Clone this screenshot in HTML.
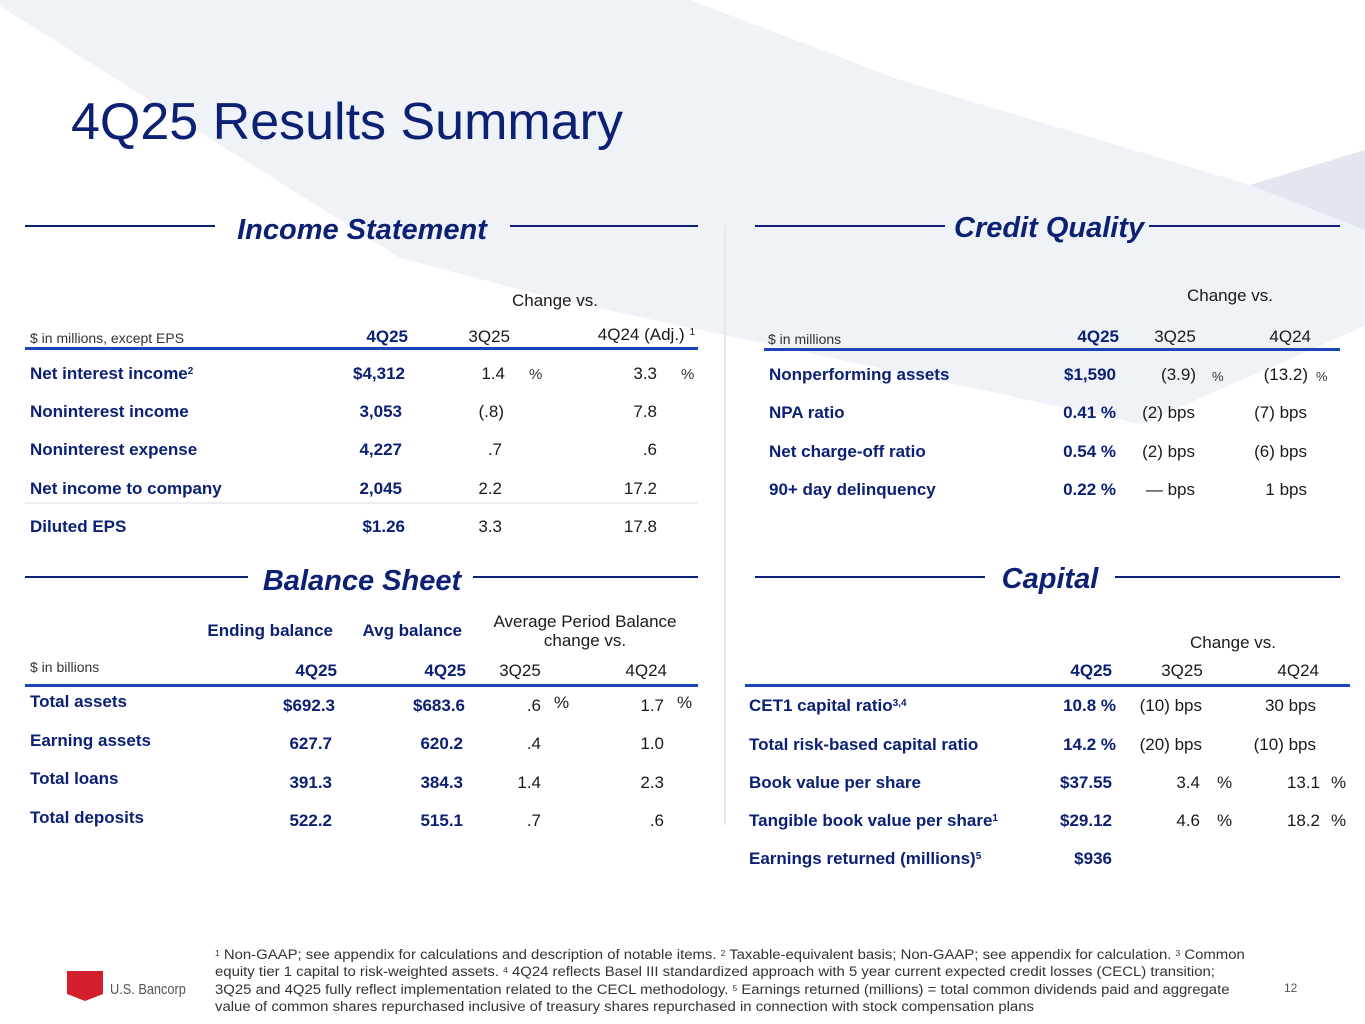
<!DOCTYPE html>
<html><head><meta charset="utf-8">
<style>
*{margin:0;padding:0;box-sizing:border-box}
body{width:1365px;height:1024px;position:relative;overflow:hidden;background:#fff;font-family:"Liberation Sans",sans-serif}
.a{position:absolute;white-space:nowrap;line-height:22px}
.R{transform:translateX(-100%)}
.C{transform:translateX(-50%)}
.lb{font-size:17px;font-weight:bold;color:#0c2074}
.v{font-size:17px;font-weight:bold;color:#0c2074}
.c{font-size:17px;color:#1a1a1a}
.p{font-size:15px;color:#333}
.hd{font-size:17px;color:#1a1a1a}
.hb{font-size:17px;font-weight:bold;color:#0c2074}
.sm{font-size:14px;color:#333}
.ln{position:absolute;height:2px;background:#0c2074}
.rule{position:absolute;height:3px;background:#1a45b8}
.sec{position:absolute;font-size:29px;font-weight:bold;font-style:italic;color:#0c2074;line-height:34px;white-space:nowrap}
sup{font-size:10px;vertical-align:top;position:relative;top:-2px}
.fn{position:absolute;left:215px;font-size:14.2px;color:#333;line-height:17.5px;white-space:nowrap;transform:scaleX(1.05);transform-origin:left}
</style></head><body>
<svg width="1365" height="1024" style="position:absolute;left:0;top:0">
<polygon points="0,0 690,0 900,80 1250,185 1365,150 1365,326 1141,424 560,300 400,258 0,6" fill="#eff2f7"/>
<polygon points="1250,185 1365,150 1365,230" fill="#e2e6ef"/>
<line x1="725" y1="225" x2="725" y2="825" stroke="#e6e8ec" stroke-width="2"/>
</svg>

<div class="a" style="left:71px;top:91px;font-size:52px;line-height:62px;color:#0c2074">4Q25 Results Summary</div>

<!-- Income Statement -->
<div class="ln" style="left:25px;top:225px;width:190px"></div>
<div class="sec C" style="left:362px;top:213px">Income Statement</div>
<div class="ln" style="left:510px;top:225px;width:188px"></div>
<div class="a hd C" style="left:555px;top:290px">Change vs.</div>
<div class="a sm" style="left:30px;top:327px">$ in millions, except EPS</div>
<div class="a hb R" style="left:408px;top:326px">4Q25</div>
<div class="a hd R" style="left:510px;top:326px">3Q25</div>
<div class="a hd R" style="left:695px;top:324px">4Q24 (Adj.) <sup>1</sup></div>
<div class="rule" style="left:25px;top:347px;width:673px"></div>
<div>
<div class="a lb" style="left:30px;top:363px">Net interest income<sup>2</sup></div>
<div class="a v R" style="left:405px;top:363px">$4,312</div><div class="a c R" style="left:505px;top:363px">1.4</div><div class="a p" style="left:529px;top:364px">%</div><div class="a c R" style="left:657px;top:363px">3.3</div><div class="a p" style="left:681px;top:364px">%</div>
<div class="a lb" style="left:30px;top:401px">Noninterest income</div>
<div class="a v R" style="left:402px;top:401px">3,053</div><div class="a c R" style="left:504px;top:401px">(.8)</div><div class="a c R" style="left:657px;top:401px">7.8</div>
<div class="a lb" style="left:30px;top:439px">Noninterest expense</div>
<div class="a v R" style="left:402px;top:439px">4,227</div><div class="a c R" style="left:502px;top:439px">.7</div><div class="a c R" style="left:657px;top:439px">.6</div>
<div class="a lb" style="left:30px;top:478px">Net income to company</div>
<div class="a v R" style="left:402px;top:478px">2,045</div><div class="a c R" style="left:502px;top:478px">2.2</div><div class="a c R" style="left:657px;top:478px">17.2</div>
<div style="position:absolute;left:25px;top:502px;width:673px;height:2px;background:#eceef2"></div>
<div class="a lb" style="left:30px;top:516px">Diluted EPS</div>
<div class="a v R" style="left:405px;top:516px">$1.26</div><div class="a c R" style="left:502px;top:516px">3.3</div><div class="a c R" style="left:657px;top:516px">17.8</div>
</div>

<!-- Balance Sheet -->
<div class="ln" style="left:25px;top:576px;width:223px"></div>
<div class="sec C" style="left:362px;top:564px">Balance Sheet</div>
<div class="ln" style="left:473px;top:576px;width:225px"></div>
<div class="a hb R" style="left:333px;top:620px">Ending balance</div>
<div class="a hb R" style="left:462px;top:620px">Avg balance</div>
<div class="a hd C" style="left:585px;top:612px;line-height:19px;text-align:center">Average Period Balance<br>change vs.</div>
<div class="a sm" style="left:30px;top:656px">$ in billions</div>
<div class="a hb R" style="left:337px;top:660px">4Q25</div>
<div class="a hb R" style="left:466px;top:660px">4Q25</div>
<div class="a hd C" style="left:520px;top:660px">3Q25</div>
<div class="a hd R" style="left:667px;top:660px">4Q24</div>
<div class="rule" style="left:25px;top:684px;width:673px"></div>
<div>
<div class="a lb" style="left:30px;top:691px">Total assets</div><div class="a v R" style="left:335px;top:695px">$692.3</div><div class="a v R" style="left:465px;top:695px">$683.6</div><div class="a c R" style="left:541px;top:695px">.6</div><div class="a c" style="left:554px;top:692px">%</div><div class="a c R" style="left:664px;top:695px">1.7</div><div class="a c" style="left:677px;top:692px">%</div>
<div class="a lb" style="left:30px;top:730px">Earning assets</div><div class="a v R" style="left:332px;top:733px">627.7</div><div class="a v R" style="left:463px;top:733px">620.2</div><div class="a c R" style="left:541px;top:733px">.4</div><div class="a c R" style="left:664px;top:733px">1.0</div>
<div class="a lb" style="left:30px;top:768px">Total loans</div><div class="a v R" style="left:332px;top:772px">391.3</div><div class="a v R" style="left:463px;top:772px">384.3</div><div class="a c R" style="left:541px;top:772px">1.4</div><div class="a c R" style="left:664px;top:772px">2.3</div>
<div class="a lb" style="left:30px;top:807px">Total deposits</div><div class="a v R" style="left:332px;top:810px">522.2</div><div class="a v R" style="left:463px;top:810px">515.1</div><div class="a c R" style="left:541px;top:810px">.7</div><div class="a c R" style="left:664px;top:810px">.6</div>
</div>

<!-- Credit Quality -->
<div class="ln" style="left:755px;top:225px;width:190px"></div>
<div class="sec" style="left:954px;top:211px">Credit Quality</div>
<div class="ln" style="left:1149px;top:225px;width:191px"></div>
<div class="a hd C" style="left:1230px;top:285px">Change vs.</div>
<div class="a sm" style="left:768px;top:328px">$ in millions</div>
<div class="a hb R" style="left:1119px;top:326px">4Q25</div>
<div class="a hd C" style="left:1175px;top:326px">3Q25</div>
<div class="a hd R" style="left:1311px;top:326px">4Q24</div>
<div class="rule" style="left:764px;top:348px;width:576px"></div>
<div>
<div class="a lb" style="left:769px;top:364px">Nonperforming assets</div><div class="a v R" style="left:1116px;top:364px">$1,590</div><div class="a c R" style="left:1196px;top:364px">(3.9)</div><div class="a p" style="left:1212px;top:366px;font-size:13px">%</div><div class="a c R" style="left:1308px;top:364px">(13.2)</div><div class="a p" style="left:1316px;top:366px;font-size:13px">%</div>
<div class="a lb" style="left:769px;top:402px">NPA ratio</div><div class="a v R" style="left:1116px;top:402px">0.41 %</div><div class="a c R" style="left:1195px;top:402px">(2) bps</div><div class="a c R" style="left:1307px;top:402px">(7) bps</div>
<div class="a lb" style="left:769px;top:441px">Net charge-off ratio</div><div class="a v R" style="left:1116px;top:441px">0.54 %</div><div class="a c R" style="left:1195px;top:441px">(2) bps</div><div class="a c R" style="left:1307px;top:441px">(6) bps</div>
<div class="a lb" style="left:769px;top:479px">90+ day delinquency</div><div class="a v R" style="left:1116px;top:479px">0.22 %</div><div class="a c R" style="left:1195px;top:479px">— bps</div><div class="a c R" style="left:1307px;top:479px">1 bps</div>
</div>

<!-- Capital -->
<div class="ln" style="left:755px;top:576px;width:230px"></div>
<div class="sec C" style="left:1050px;top:562px">Capital</div>
<div class="ln" style="left:1115px;top:576px;width:225px"></div>
<div class="a hd C" style="left:1233px;top:632px">Change vs.</div>
<div class="a hb R" style="left:1112px;top:660px">4Q25</div>
<div class="a hd C" style="left:1182px;top:660px">3Q25</div>
<div class="a hd R" style="left:1319px;top:660px">4Q24</div>
<div class="rule" style="left:745px;top:684px;width:605px"></div>
<div>
<div class="a lb" style="left:749px;top:695px">CET1 capital ratio<sup>3,4</sup></div><div class="a v R" style="left:1116px;top:695px">10.8 %</div><div class="a c R" style="left:1202px;top:695px">(10) bps</div><div class="a c R" style="left:1316px;top:695px">30 bps</div>
<div class="a lb" style="left:749px;top:734px">Total risk-based capital ratio</div><div class="a v R" style="left:1116px;top:734px">14.2 %</div><div class="a c R" style="left:1202px;top:734px">(20) bps</div><div class="a c R" style="left:1316px;top:734px">(10) bps</div>
<div class="a lb" style="left:749px;top:772px">Book value per share</div><div class="a v R" style="left:1112px;top:772px">$37.55</div><div class="a c R" style="left:1200px;top:772px">3.4</div><div class="a c" style="left:1217px;top:772px">%</div><div class="a c R" style="left:1320px;top:772px">13.1</div><div class="a c" style="left:1331px;top:772px">%</div>
<div class="a lb" style="left:749px;top:810px">Tangible book value per share<sup>1</sup></div><div class="a v R" style="left:1112px;top:810px">$29.12</div><div class="a c R" style="left:1200px;top:810px">4.6</div><div class="a c" style="left:1217px;top:810px">%</div><div class="a c R" style="left:1320px;top:810px">18.2</div><div class="a c" style="left:1331px;top:810px">%</div>
<div class="a lb" style="left:749px;top:848px">Earnings returned (millions)<sup>5</sup></div><div class="a v R" style="left:1112px;top:848px">$936</div>
</div>

<!-- Footer -->
<svg width="40" height="32" style="position:absolute;left:67px;top:971px"><polygon points="0,0 36,0 36,23 18,30 0,23" fill="#d21f2b"/></svg>
<div class="a" style="left:110px;top:979px;font-size:15px;color:#555;transform:scaleX(0.85);transform-origin:left">U.S. Bancorp</div>
<div>
<div class="fn" style="top:947px"><sup style="font-size:8px">1</sup> Non-GAAP; see appendix for calculations and description of notable items. <sup style="font-size:8px">2</sup> Taxable-equivalent basis; Non-GAAP; see appendix for calculation. <sup style="font-size:8px">3</sup> Common</div>
<div class="fn" style="top:964px">equity tier 1 capital to risk-weighted assets. <sup style="font-size:8px">4</sup> 4Q24 reflects Basel III standardized approach with 5 year current expected credit losses (CECL) transition;</div>
<div class="fn" style="top:982px">3Q25 and 4Q25 fully reflect implementation related to the CECL methodology. <sup style="font-size:8px">5</sup> Earnings returned (millions) = total common dividends paid and aggregate</div>
<div class="fn" style="top:999px">value of common shares repurchased inclusive of treasury shares repurchased in connection with stock compensation plans</div>
</div>
<div class="a" style="left:1284px;top:977px;font-size:12px;color:#555">12</div>
</body></html>
